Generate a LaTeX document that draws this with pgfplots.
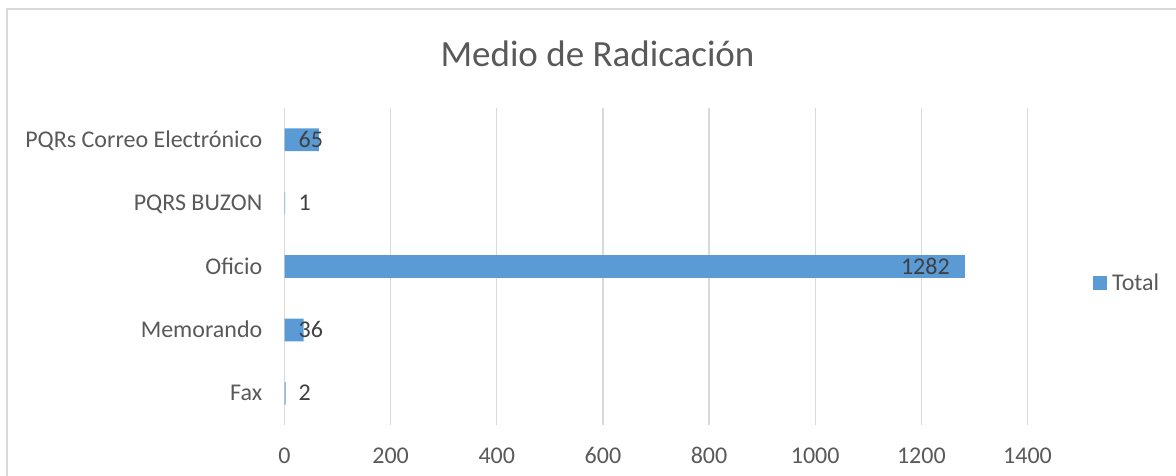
\documentclass[border=0pt]{standalone}
\usepackage{pgfplots}
\pgfplotsset{compat=1.18}
\usepackage{fontspec}
\setmainfont{Carlito}
\definecolor{barblue}{HTML}{5B9BD5}
\definecolor{gridgray}{HTML}{D9D9D9}
\definecolor{tickgray}{HTML}{595959}
\definecolor{labelgray}{HTML}{404040}
\begin{document}
\begin{tikzpicture}
\path[use as bounding box] (0,0) rectangle (1176bp,476bp);
\draw[gridgray, line width=1.5bp] (7bp,-5bp) -- (7bp,467bp) -- (1190bp,467bp);
\node[anchor=base, text=tickgray, inner sep=0pt, font=\fontsize{37bp}{42bp}\selectfont] at (597.5bp,409bp) {Medio de Radicación};
\begin{axis}[
  scale only axis,
  width=743bp, height=317bp,
  at={(284.5bp,51bp)}, anchor=south west,
  xmin=0, xmax=1400,
  ymin=-0.5, ymax=4.5,
  xtick={0,200,...,1400},
  ytick={0,1,2,3,4},
  yticklabels={Fax, Memorando, Oficio, PQRS BUZON, PQRs Correo Electrónico},
  axis line style={draw=none},
  major tick length=0pt,
  xmajorgrids,
  grid style={gridgray, line width=1.3bp},
  /pgf/number format/assume math mode=true,
  /pgf/number format/1000 sep={},
  scaled ticks=false,
  tick label style={text=tickgray, font=\fontsize{24bp}{28bp}\selectfont},
  xticklabel style={anchor=base, inner sep=0pt, yshift=-38bp},
  yticklabel style={anchor=base east, inner sep=0pt, xshift=-22bp, yshift=-7.5bp},
  legend style={at={(rel axis cs:1.0882,0.448)}, anchor=west, draw=none, fill=none, inner sep=0pt,
    font=\fontsize{24bp}{28bp}\selectfont, text=tickgray},
  legend image code/.code={\fill[barblue] (0bp,-6.75bp) rectangle (13.5bp,6.75bp); \path (0bp,0bp) -- (17bp,0bp);},
  clip=false,
]
\addplot[xbar, bar width=22.7bp, fill=barblue, draw=none] coordinates {(2,0) (36,1) (1282,2) (1,3) (65,4)};
\addlegendentry{Total}
\addplot[forget plot, draw=none, mark=none, nodes near coords, point meta=explicit symbolic,
  every node near coord/.append style={anchor=base west, inner sep=0pt, xshift=14bp, yshift=-7.5bp, text=labelgray, font=\fontsize{24bp}{28bp}\selectfont}]
  coordinates {(0,0)[2] (0,1)[36] (0,3)[1] (0,4)[65]};
\addplot[forget plot, draw=none, mark=none, nodes near coords, point meta=explicit symbolic,
  every node near coord/.append style={anchor=base east, inner sep=0pt, xshift=-15bp, yshift=-7.5bp, text=labelgray, font=\fontsize{24bp}{28bp}\selectfont}]
  coordinates {(1282,2)[1282]};
\end{axis}
\end{tikzpicture}
\end{document}
